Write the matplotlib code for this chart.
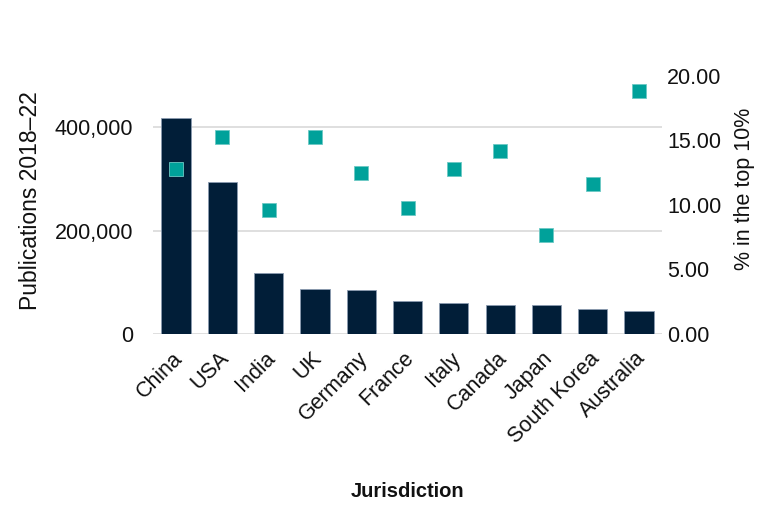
import matplotlib
matplotlib.use("Agg")
import matplotlib.pyplot as plt
import matplotlib.transforms as mtransforms
from matplotlib.ticker import FuncFormatter, FixedLocator

plt.rcParams['font.family'] = ['Liberation Sans', 'DejaVu Sans']

# データ
jurisdictions = ['China', 'USA', 'India', 'UK', 'Germany', 'France', 'Italy',
                 'Canada', 'Japan', 'South Korea', 'Australia']
publications = [417600, 294900, 117500, 87800, 85200, 64500, 59400,
                56200, 55600, 48400, 45200]
top10_pct = [12.77, 15.27, 9.62, 15.22, 12.49, 9.75, 12.77,
             14.16, 7.66, 11.58, 18.83]

navy = '#011E38'
teal = '#00A19A'
grid_col = '#D9D9D9'
txt_col = '#111111'

fig = plt.figure(figsize=(7.8, 5.2), dpi=100)
ax = fig.add_axes([0.196, 0.3577, 0.653, 0.4967])
ax2 = ax.twinx()

x = range(len(jurisdictions))
ax.bar(x, publications, width=0.63, color=navy, edgecolor='#8A9BB0',
       linewidth=0.6, zorder=2)
ax2.plot(x, top10_pct, linestyle='none', marker='s', markersize=10,
         color=teal, markeredgecolor='#6CC9C4', markeredgewidth=0.6, zorder=3)

ax.set_xlim(-0.5, len(jurisdictions) - 0.5)
ax.set_ylim(0, 500000)
ax.yaxis.set_major_locator(FixedLocator([0, 200000, 400000]))
ax.yaxis.set_major_formatter(FuncFormatter(lambda v, p: f'{int(v):,}'))
ax2.set_ylim(0, 20)
ax2.yaxis.set_major_locator(FixedLocator([0, 5, 10, 15, 20]))
ax2.yaxis.set_major_formatter(FuncFormatter(lambda v, p: f'{v:.2f}'))

ax.grid(axis='y', color=grid_col, linewidth=1.2, zorder=0)
ax.set_axisbelow(True)
ax.set_zorder(ax2.get_zorder() - 1)
ax.patch.set_visible(False)
ax2.patch.set_visible(False)

for a in (ax, ax2):
    for s in a.spines.values():
        s.set_visible(False)
    a.tick_params(length=0, labelsize=15.5, colors=txt_col)
ax.tick_params(axis='y', pad=14)
ax2.tick_params(axis='y', pad=3.5)

ax.set_xticks(list(x))
ax.set_xticklabels(jurisdictions, rotation=45, ha='right',
                   rotation_mode='anchor')
ax.tick_params(axis='x', pad=10)
shift = mtransforms.ScaledTranslation(-4 / 100, 0, fig.dpi_scale_trans)
for lbl in ax.get_xticklabels():
    lbl.set_transform(lbl.get_transform() + shift)

# 軸ラベル（位置は図に合わせて配置）
fig.text(0.0385, 0.615, 'Publications 2018–22', rotation=90, ha='center',
         va='center', fontsize=16.5, color=txt_col)
fig.text(0.954, 0.6365, '% in the top 10%', rotation=90, ha='center',
         va='center', fontsize=15.5, color=txt_col)
fig.text(0.522, 0.054, 'Jurisdiction', ha='center', va='center',
         fontsize=14.5, fontweight='bold', color=txt_col)

fig.savefig('out.png', dpi=100)
